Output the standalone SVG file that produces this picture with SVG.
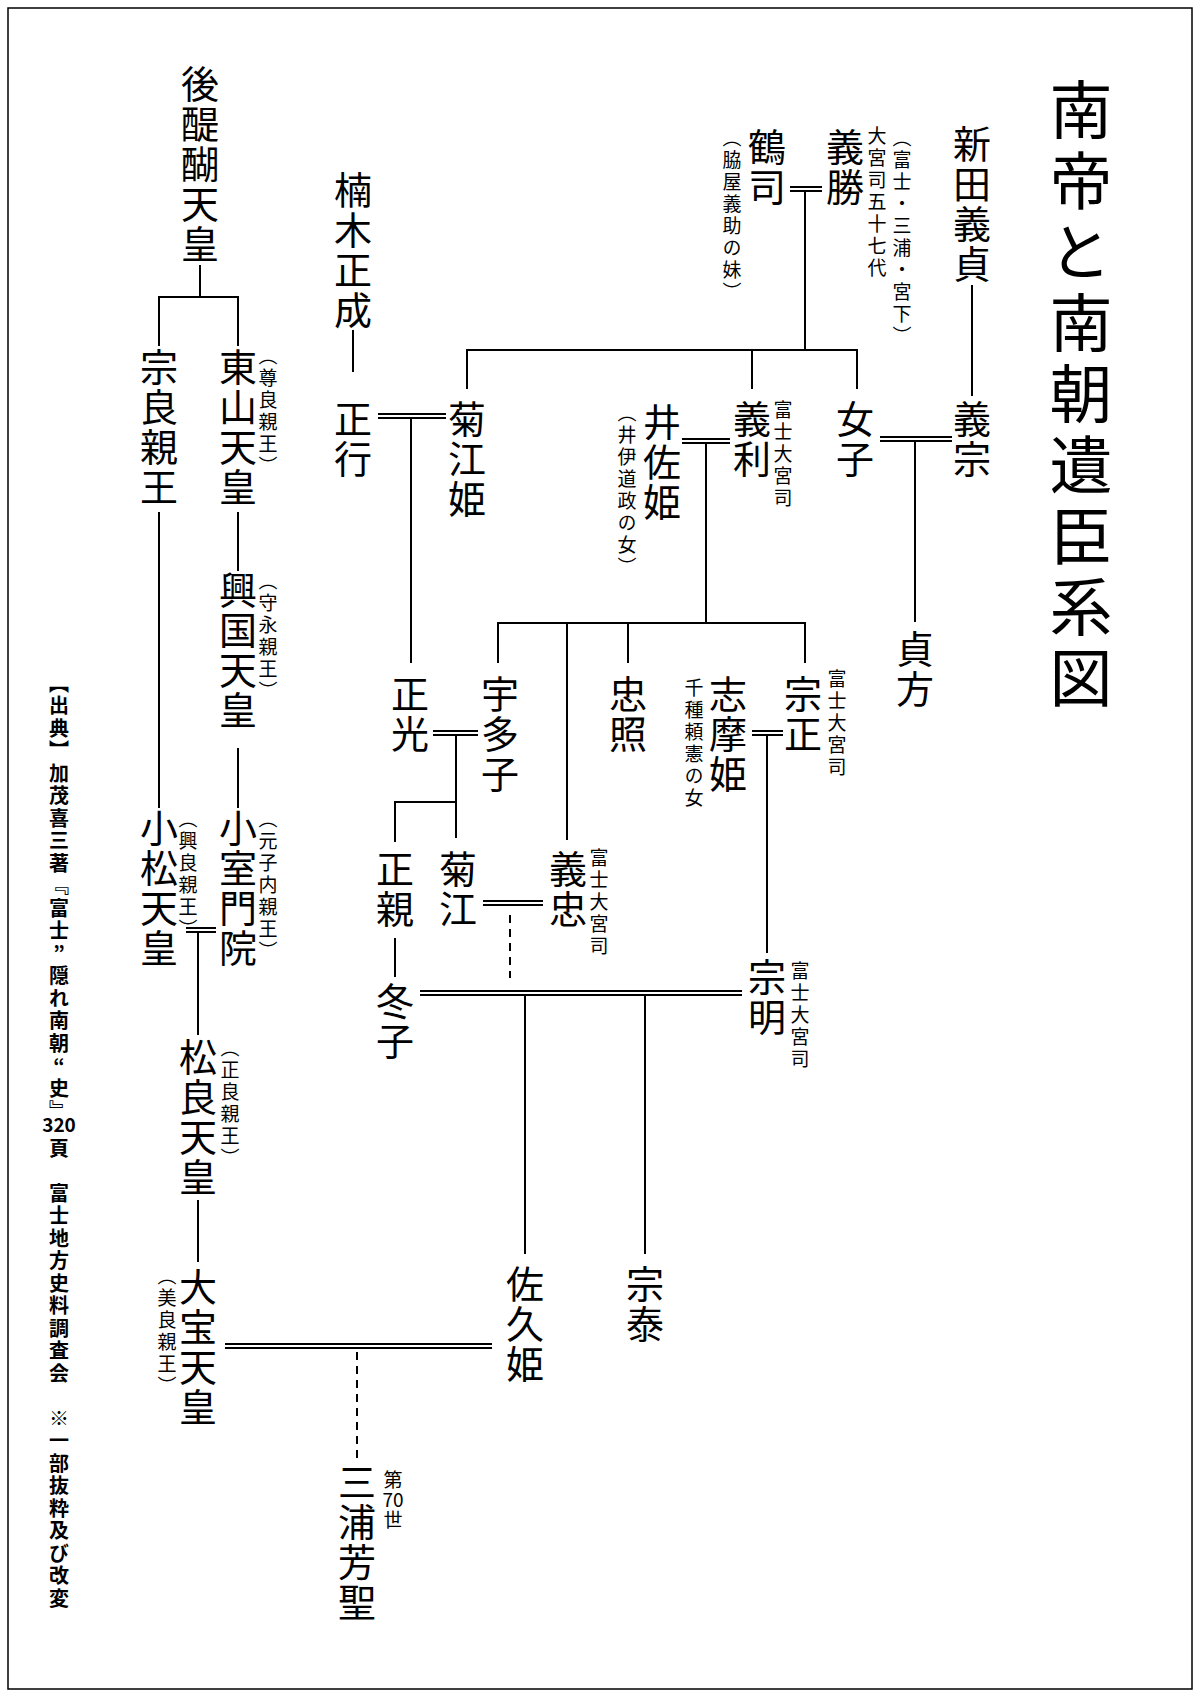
<svg xmlns="http://www.w3.org/2000/svg" width="1200" height="1697" viewBox="0 0 1200 1697">
<style>
text{font-family:"Noto Sans CJK JP","Noto Sans CJK SC",sans-serif;fill:#000;writing-mode:vertical-rl;text-orientation:upright}
.m{font-size:38px;letter-spacing:2px}
.s{font-size:19px;letter-spacing:3px}
.t{font-size:63px;letter-spacing:8px}
.src{font-size:20px;letter-spacing:2.5px;font-weight:bold}
.h{writing-mode:horizontal-tb;text-anchor:middle}
line,path{stroke:#000;stroke-width:2;fill:none}
.d{stroke-dasharray:8,6}
</style>
<rect x="8" y="8" width="1184" height="1681" fill="#fff" stroke="#000" stroke-width="1.5"/>
<g id="title"><text class="t" x="1081" y="78">南帝と南朝遺臣系図</text></g>
<g id="source">
<text class="src" x="59" y="673">【出典】加茂喜三著『富士”隠れ南朝“史』</text>
<text class="src h" x="59" y="1132" style="font-size:19px;letter-spacing:0">320</text>
<text class="src" x="59" y="1138">頁　富士地方史料調査会　※一部抜粋及び改変</text>
</g>
<g id="connectors">
<line x1="972" y1="285" x2="972" y2="396"/>
<line x1="880" y1="437" x2="952" y2="437"/><line x1="880" y1="441" x2="952" y2="441"/>
<line x1="915" y1="441" x2="915" y2="622"/>
<line x1="790" y1="187" x2="822" y2="187"/><line x1="790" y1="191" x2="822" y2="191"/>
<line x1="805" y1="191" x2="805" y2="350"/>
<path d="M467 389V350H857V389M752 350V389"/>
<line x1="682" y1="439" x2="730" y2="439"/><line x1="682" y1="443" x2="730" y2="443"/>
<line x1="706" y1="443" x2="706" y2="623"/>
<path d="M498 663V623H805V663M567 623V840M628 623V663"/>
<line x1="353" y1="330" x2="353" y2="372"/>
<line x1="378" y1="414" x2="446" y2="414"/><line x1="378" y1="418" x2="446" y2="418"/>
<line x1="411" y1="418" x2="411" y2="663"/>
<line x1="433" y1="731" x2="478" y2="731"/><line x1="433" y1="735" x2="478" y2="735"/>
<path d="M456 735V838M456 802H395V842"/>
<line x1="752" y1="731" x2="783" y2="731"/><line x1="752" y1="735" x2="783" y2="735"/>
<line x1="767" y1="735" x2="767" y2="953"/>
<line x1="483" y1="901" x2="543" y2="901"/><line x1="483" y1="905" x2="543" y2="905"/>
<line class="d" x1="510" y1="915" x2="510" y2="978"/>
<line x1="395" y1="938" x2="395" y2="977"/>
<line x1="420" y1="991" x2="742" y2="991"/><line x1="420" y1="995" x2="742" y2="995"/>
<line x1="525" y1="995" x2="525" y2="1254"/>
<line x1="645" y1="995" x2="645" y2="1254"/>
<line x1="200" y1="265" x2="200" y2="297"/>
<path d="M159 346V297H238V346"/>
<line x1="238" y1="512" x2="238" y2="571"/>
<line x1="238" y1="748" x2="238" y2="808"/>
<line x1="159" y1="512" x2="159" y2="808"/>
<line x1="186" y1="928" x2="216" y2="928"/><line x1="186" y1="932" x2="216" y2="932"/>
<line x1="198" y1="932" x2="198" y2="1035"/>
<line x1="198" y1="1200" x2="198" y2="1262"/>
<line x1="225" y1="1344" x2="492" y2="1344"/><line x1="225" y1="1348" x2="492" y2="1348"/>
<line class="d" x1="357" y1="1352" x2="357" y2="1460"/>
</g>
<g id="n-nitta"><text class="m" x="972" y="125">新田義貞</text></g>
<g id="n-yoshimune"><text class="m" x="972" y="400">義宗</text></g>
<g id="n-joshi"><text class="m" x="855" y="400">女子</text></g>
<g id="n-sadakata"><text class="m" x="915" y="630">貞方</text></g>
<g id="n-yoshikatsu"><text class="m" x="845" y="128">義勝</text><text class="s" x="877" y="126">大宮司五十七代</text><text class="s" x="902" y="128">（富士・三浦・宮下）</text></g>
<g id="n-tsuruji"><text class="m" x="767" y="128">鶴司</text><text class="s" x="732" y="128">（脇屋義助の妹）</text></g>
<g id="n-yoshitoshi"><text class="m" x="752" y="400">義利</text><text class="s" x="783" y="400">富士大宮司</text></g>
<g id="n-isahime"><text class="m" x="662" y="403">井佐姫</text><text class="s" x="627" y="403">（井伊道政の女）</text></g>
<g id="n-kusunoki"><text class="m" x="353" y="171">楠木正成</text></g>
<g id="n-masayuki"><text class="m" x="353" y="400">正行</text></g>
<g id="n-kikuehime"><text class="m" x="467" y="400">菊江姫</text></g>
<g id="n-masamitsu"><text class="m" x="410" y="675">正光</text></g>
<g id="n-utako"><text class="m" x="500" y="675">宇多子</text></g>
<g id="n-tadateru"><text class="m" x="628" y="675">忠照</text></g>
<g id="n-shimahime"><text class="m" x="728" y="675">志摩姫</text><text class="s" x="694" y="678">千種頼憲の女</text></g>
<g id="n-munemasa"><text class="m" x="803" y="675">宗正</text><text class="s" x="837" y="669">富士大宮司</text></g>
<g id="n-masachika"><text class="m" x="395" y="850">正親</text></g>
<g id="n-kikue"><text class="m" x="458" y="850">菊江</text></g>
<g id="n-yoshitada"><text class="m" x="568" y="850">義忠</text><text class="s" x="599" y="848">富士大宮司</text></g>
<g id="n-fuyuko"><text class="m" x="395" y="982">冬子</text></g>
<g id="n-muneaki"><text class="m" x="767" y="958">宗明</text><text class="s" x="800" y="961">富士大宮司</text></g>
<g id="n-sakuhime"><text class="m" x="525" y="1265">佐久姫</text></g>
<g id="n-muneyasu"><text class="m" x="645" y="1265">宗泰</text></g>
<g id="n-godaigo"><text class="m" x="200" y="65">後醍醐天皇</text></g>
<g id="n-muneyoshi"><text class="m" x="159" y="348">宗良親王</text></g>
<g id="n-higashiyama"><text class="m" x="238" y="348">東山天皇</text><text class="s" x="268" y="346">（尊良親王）</text></g>
<g id="n-kokoku"><text class="m" x="238" y="571">興国天皇</text><text class="s" x="268" y="571">（守永親王）</text></g>
<g id="n-komuro"><text class="m" x="238" y="809">小室門院</text><text class="s" x="268" y="809">（元子内親王）</text></g>
<g id="n-komatsu"><text class="m" x="159" y="809">小松天皇</text><text class="s" x="188" y="809">（興良親王）</text></g>
<g id="n-matsura"><text class="m" x="198" y="1038">松良天皇</text><text class="s" x="230" y="1038">（正良親王）</text></g>
<g id="n-taiho"><text class="m" x="198" y="1268">大宝天皇</text><text class="s" x="167" y="1266">（美良親王）</text></g>
<g id="n-miura"><text class="m" x="357" y="1463">三浦芳聖</text><text class="s" x="393" y="1470">第</text><text class="s h" x="393" y="1507" style="letter-spacing:0">70</text><text class="s" x="393" y="1510">世</text></g>
</svg>
